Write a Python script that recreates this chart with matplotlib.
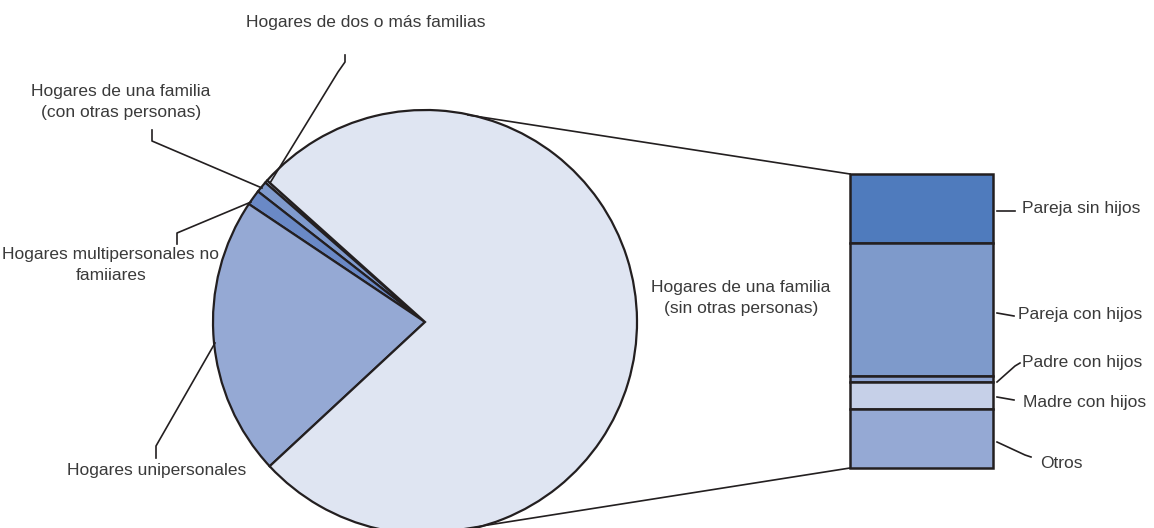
import matplotlib
matplotlib.use("Agg")
import matplotlib.pyplot as plt

# pie: household types (%)
pie_labels = ["Hogares de dos o más familias",
              "Hogares de una familia\n(con otras personas)",
              "Hogares multipersonales no\nfamiiares",
              "Hogares unipersonales",
              "Hogares de una familia\n(sin otras personas)"]
pie_values = [0.22, 0.86, 1.17, 21.3, 76.45]
pie_colors = ["#b9c6e3", "#7f9acd", "#6a89c6", "#95a9d4", "#dfe5f2"]

# bar: breakdown of one-family households (%)
bar_labels = ["Pareja sin hijos", "Pareja con hijos", "Padre con hijos",
              "Madre con hijos", "Otros"]
bar_values = [23.3, 45.5, 2.0, 9.1, 20.1]
bar_colors = ["#4f7bbd", "#7e9acb", "#8ea4d2", "#c6d0e8", "#95a9d4"]

W, H = 1154, 528
TXT = "#3a3a3a"
LINE = "#231f20"
plt.rcParams['font.family'] = ['Liberation Sans', 'DejaVu Sans']


def Y(y):
    # image y (top-down) -> axes y (bottom-up)
    return H - y


fig = plt.figure(figsize=(W / 100, H / 100), dpi=100)
ax = fig.add_axes([0, 0, 1, 1])

# pie
cx, cy, r = 425, Y(322), 212
ax.pie(pie_values, colors=pie_colors, startangle=138.1, counterclock=True,
       center=(cx, cy), radius=r, frame=True,
       wedgeprops=dict(edgecolor=LINE, linewidth=1.6))
ax.set_xlim(0, W)
ax.set_ylim(0, H)
ax.set_aspect('equal')
ax.axis('off')

# stacked bar
bx, bw = 921.5, 143
top, total_h = Y(174), 294.0
scale = total_h / sum(bar_values)
cur = top
for lab, v, c in zip(bar_labels, bar_values, bar_colors):
    h = v * scale
    ax.bar(bx, h, width=bw, bottom=cur - h, color=c, edgecolor=LINE,
           linewidth=1.8, zorder=3)
    cur -= h

# connecting lines
ax.plot([468, 850], [Y(115), Y(174)], color=LINE, lw=1.2)
ax.plot([450, 850], [Y(531), Y(468)], color=LINE, lw=1.2)

# pie labels and leaders
fs = 12.5
ls = 1.45
ax.text(366, Y(22), pie_labels[0], ha='center', va='center', fontsize=fs, color=TXT)
ax.plot([345, 345, 338, 270], [Y(55), Y(62), Y(72), Y(183)], color=LINE, lw=1.2)

ax.text(121, Y(102), pie_labels[1], ha='center', va='center', fontsize=fs,
        color=TXT, linespacing=ls)
ax.plot([152, 152, 262], [Y(130), Y(141), Y(188)], color=LINE, lw=1.2)

ax.text(111, Y(265), pie_labels[2], ha='center', va='center', fontsize=fs,
        color=TXT, linespacing=ls)
ax.plot([177, 177, 251], [Y(244), Y(233), Y(202)], color=LINE, lw=1.2)

ax.text(157, Y(470), pie_labels[3], ha='center', va='center', fontsize=fs, color=TXT)
ax.plot([156, 156, 215], [Y(458), Y(446), Y(343)], color=LINE, lw=1.2)

ax.text(741, Y(298), pie_labels[4], ha='center', va='center', fontsize=fs,
        color=TXT, linespacing=ls)

# bar labels and leaders
bar_text_y = [209, 315, 363, 402, 463]
bar_text_x = [1022, 1018, 1022, 1023, 1040]
leaders = [([997, 1015], [211, 211]),
           ([997, 1014], [313, 316]),
           ([997, 1015, 1020], [382, 366, 363]),
           ([997, 1014], [397, 400]),
           ([997, 1025, 1031], [442, 455, 457])]
for lab, tx, ty, (lx, ly) in zip(bar_labels, bar_text_x, bar_text_y, leaders):
    ax.text(tx, Y(ty), lab, ha='left', va='center', fontsize=fs, color=TXT)
    ax.plot(lx, [Y(v) for v in ly], color=LINE, lw=1.2)

fig.savefig("out.png", dpi=100)
